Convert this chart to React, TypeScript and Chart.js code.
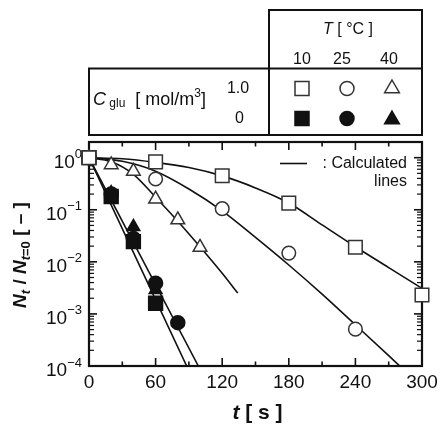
import React, { useEffect, useRef } from "react";
import { Chart, registerables } from "chart.js";

Chart.register(...registerables);

// ---------- data ----------
// Open symbols: C_glu = 1.0 mol/m3
const openSq10_t = [0, 60, 120, 180, 240, 300];
const openSq10_N = [1.0, 0.83, 0.45, 0.134, 0.019, 0.0023];
const openCi25_t = [0, 60, 120, 180, 240];
const openCi25_N = [1.0, 0.39, 0.105, 0.0147, 0.00051];
const openTr40_t = [0, 20, 40, 60, 80, 100];
const openTr40_N = [1.0, 0.73, 0.55, 0.16, 0.064, 0.019];
// Filled symbols: C_glu = 0
const fillSq10_t = [0, 20, 40, 60];
const fillSq10_N = [1.0, 0.18, 0.0245, 0.0016];
const fillCi25_t = [0, 20, 40, 60, 80];
const fillCi25_N = [1.0, 0.2, 0.028, 0.0039, 0.00068];
const fillTr40_t = [0, 20, 40, 60];
const fillTr40_N = [1.0, 0.21, 0.047, 0.0029];
// Calculated lines
const calcSq_t = [0, 30, 60, 90, 120, 150, 180, 210, 240, 270, 300];
const calcSq_N = [1.0, 0.955, 0.813, 0.646, 0.447, 0.263, 0.135, 0.0513, 0.0195, 0.00776, 0.00309];
const calcCi_t = [0, 30, 60, 90, 120, 150, 180, 210, 240, 270, 280];
const calcCi_N = [1.0, 0.851, 0.55, 0.251, 0.0955, 0.0295, 0.0087, 0.0024, 0.000617, 0.000158, 0.0001];
const calcTr_t = [0, 20, 40, 60, 80, 100, 120, 134];
const calcTr_N = [1.0, 0.832, 0.479, 0.174, 0.0603, 0.0195, 0.00603, 0.00251];
const calcFillA_t = [0, 88];
const calcFillA_N = [1.0, 0.0001];
const calcFillB_t = [0, 98.5];
const calcFillB_N = [1.0, 0.0001];

// ticks and labels
const xMajorTicks = [0, 60, 120, 180, 240, 300];
const xMinorTicks = [30, 90, 150, 210, 270];
const yDecadeExponents = [0, -1, -2, -3, -4];
const tempLabels = ["10", "25", "40"];
const concLabels = ["1.0", "0"];

const FONT = '"Liberation Sans", Arial, Helvetica, sans-serif';
const INK = "#111";

const pts = (t: number[], n: number[]) => t.map((x, i) => ({ x, y: n[i] }));

function markerSet(label: string, t: number[], n: number[], style: string, filled: boolean, r: number) {
  return {
    label,
    data: pts(t, n),
    showLine: false,
    pointStyle: style,
    pointRadius: r,
    pointHoverRadius: r,
    pointBackgroundColor: filled ? INK : "#fff",
    pointBorderColor: filled ? INK : "#333",
    pointBorderWidth: 1.5,
    clip: false,
    order: 1,
  };
}

function lineSet(label: string, t: number[], n: number[]) {
  return {
    label,
    data: pts(t, n),
    showLine: true,
    borderColor: INK,
    borderWidth: 1.6,
    pointRadius: 0,
    cubicInterpolationMode: "monotone",
    order: 10,
  };
}

function seg(ctx: CanvasRenderingContext2D, x1: number, y1: number, x2: number, y2: number) {
  ctx.beginPath();
  ctx.moveTo(x1, y1);
  ctx.lineTo(x2, y2);
  ctx.stroke();
}

type Piece = { t: string; f: string; dy?: number };
function drawPieces(ctx: CanvasRenderingContext2D, pieces: Piece[], x: number, y: number, align: "left" | "center") {
  let total = 0;
  for (const p of pieces) {
    ctx.font = p.f;
    total += ctx.measureText(p.t).width;
  }
  let cx = align === "center" ? x - total / 2 : x;
  ctx.textAlign = "left";
  for (const p of pieces) {
    ctx.font = p.f;
    ctx.fillText(p.t, cx, y + (p.dy || 0));
    cx += ctx.measureText(p.t).width;
  }
}

function drawMarker(ctx: CanvasRenderingContext2D, kind: string, filled: boolean, x: number, y: number) {
  ctx.beginPath();
  if (kind === "rect") {
    const s = 7;
    ctx.rect(x - s, y - s, 2 * s, 2 * s);
  } else if (kind === "circle") {
    ctx.arc(x, y, 7, 0, Math.PI * 2);
  } else {
    const r = 8.5;
    ctx.moveTo(x, y - r);
    ctx.lineTo(x + r * 0.866, y + r / 2);
    ctx.lineTo(x - r * 0.866, y + r / 2);
    ctx.closePath();
  }
  ctx.fillStyle = filled ? INK : "#fff";
  ctx.fill();
  ctx.lineWidth = 1.5;
  ctx.strokeStyle = filled ? INK : "#333";
  ctx.stroke();
}

const overlayPlugin = {
  id: "overlay",
  beforeDatasetsDraw(chart: any) {
    const { ctx, chartArea: a } = chart;
    const xs = chart.scales.x;
    const ys = chart.scales.y;
    ctx.save();
    ctx.strokeStyle = INK;
    ctx.fillStyle = INK;
    // frame
    ctx.lineWidth = 2.2;
    ctx.strokeRect(a.left, a.top, a.right - a.left, a.bottom - a.top);
    // x ticks
    ctx.lineWidth = 1.6;
    for (const v of xMajorTicks) {
      const px = xs.getPixelForValue(v);
      seg(ctx, px, a.bottom, px, a.bottom - 8);
      seg(ctx, px, a.top, px, a.top + 8);
    }
    for (const v of xMinorTicks) {
      const px = xs.getPixelForValue(v);
      seg(ctx, px, a.bottom, px, a.bottom - 4.5);
      seg(ctx, px, a.top, px, a.top + 4.5);
    }
    // y ticks
    for (const e of yDecadeExponents) {
      const py = ys.getPixelForValue(Math.pow(10, e));
      seg(ctx, a.left, py, a.left + 8, py);
      seg(ctx, a.right, py, a.right - 8, py);
    }
    ctx.lineWidth = 1.2;
    for (const e of yDecadeExponents) {
      for (let m = 2; m <= 9; m++) {
        const v = m * Math.pow(10, e);
        if (v >= ys.max || v <= ys.min) continue;
        const py = ys.getPixelForValue(v);
        seg(ctx, a.left, py, a.left + 5, py);
        seg(ctx, a.right, py, a.right - 5, py);
      }
    }
    // x tick labels
    ctx.font = `19px ${FONT}`;
    ctx.textAlign = "center";
    ctx.textBaseline = "middle";
    for (const v of xMajorTicks) {
      ctx.fillText(String(v), xs.getPixelForValue(v), a.bottom + 17);
    }
    // y tick labels 10^e
    for (const e of yDecadeExponents) {
      const py = ys.getPixelForValue(Math.pow(10, e));
      const expTxt = e === 0 ? "0" : "\u2212" + String(-e);
      ctx.font = `13px ${FONT}`;
      const ew = ctx.measureText(expTxt).width;
      const right = a.left - 7;
      ctx.textAlign = "left";
      ctx.fillText(expTxt, right - ew, py - 3);
      ctx.font = `19px ${FONT}`;
      ctx.textAlign = "right";
      ctx.fillText("10", right - ew, py + 5);
    }
    // x title
    ctx.textBaseline = "middle";
    drawPieces(
      ctx,
      [
        { t: "t", f: `italic bold 21px ${FONT}` },
        { t: " [ s ]", f: `bold 21px ${FONT}` },
      ],
      (a.left + a.right) / 2 + 2,
      413,
      "center"
    );
    // y title (rotated)
    ctx.save();
    ctx.translate(20, (a.top + a.bottom) / 2 + 1);
    ctx.rotate(-Math.PI / 2);
    ctx.textBaseline = "alphabetic";
    drawPieces(
      ctx,
      [
        { t: "N", f: `italic bold 19px ${FONT}` },
        { t: "t", f: `italic bold 13px ${FONT}`, dy: 4 },
        { t: " / ", f: `bold 19px ${FONT}` },
        { t: "N", f: `italic bold 19px ${FONT}` },
        { t: "t", f: `italic bold 13px ${FONT}`, dy: 4 },
        { t: "=0", f: `bold 13px ${FONT}`, dy: 4 },
        { t: " [ \u2013 ]", f: `bold 19px ${FONT}` },
      ],
      0,
      6,
      "center"
    );
    ctx.restore();
    ctx.restore();
  },
  afterDraw(chart: any) {
    const { ctx, chartArea: a } = chart;
    ctx.save();
    ctx.strokeStyle = INK;
    ctx.fillStyle = INK;
    // "Calculated lines" key inside plot
    ctx.lineWidth = 1.6;
    seg(ctx, 280, 163.5, 307, 163.5);
    ctx.font = `16px ${FONT}`;
    ctx.textAlign = "right";
    ctx.textBaseline = "middle";
    ctx.fillText(": Calculated", 407, 164);
    ctx.fillText("lines", 407, 182);

    // legend table
    const tblLeft = a.left;
    const tblRight = a.right;
    const divX = 269;
    const topY = 10;
    const midY = 68.5;
    const botY = 135;
    ctx.lineWidth = 2;
    ctx.beginPath();
    ctx.moveTo(divX, midY);
    ctx.lineTo(divX, topY);
    ctx.lineTo(tblRight, topY);
    ctx.lineTo(tblRight, botY);
    ctx.lineTo(tblLeft, botY);
    ctx.lineTo(tblLeft, midY);
    ctx.lineTo(tblRight, midY);
    ctx.moveTo(divX, midY);
    ctx.lineTo(divX, botY);
    ctx.stroke();

    ctx.textBaseline = "middle";
    drawPieces(
      ctx,
      [
        { t: "T", f: `italic 16px ${FONT}` },
        { t: " [ \u00B0C ]", f: `16px ${FONT}` },
      ],
      348,
      30,
      "center"
    );
    const colX = [302, 347, 392];
    ctx.font = `16px ${FONT}`;
    ctx.textAlign = "center";
    tempLabels.forEach((l, i) => ctx.fillText(l, colX[i] - (i === 1 ? 5 : i === 2 ? 3 : 0), 59.5));
    const rowY = [88.5, 118.5];
    ctx.fillText(concLabels[0], 238, rowY[0]);
    ctx.fillText(concLabels[1], 239.5, rowY[1]);
    drawPieces(
      ctx,
      [
        { t: "C", f: `italic 18px ${FONT}` },
        { t: " glu", f: `12px ${FONT}`, dy: 4 },
        { t: "  [ mol/m", f: `18px ${FONT}` },
        { t: "3", f: `12px ${FONT}`, dy: -6 },
        { t: "]", f: `18px ${FONT}` },
      ],
      93,
      100,
      "left"
    );
    const kinds = ["rect", "circle", "triangle"];
    kinds.forEach((k, i) => {
      drawMarker(ctx, k, false, colX[i], rowY[0]);
      drawMarker(ctx, k, true, colX[i], rowY[1] + (k === "triangle" ? 1 : 0));
    });
    ctx.restore();
  },
};

export default function App() {
  const ref = useRef<HTMLCanvasElement>(null);
  useEffect(() => {
    const datasets: any[] = [
      markerSet("10 °C, 1.0", openSq10_t, openSq10_N, "rect", false, 9.6),
      markerSet("25 °C, 1.0", openCi25_t, openCi25_N, "circle", false, 6.8),
      markerSet("40 °C, 1.0", openTr40_t, openTr40_N, "triangle", false, 7.9),
      markerSet("25 °C, 0", fillCi25_t, fillCi25_N, "circle", true, 7),
      markerSet("40 °C, 0", fillTr40_t, fillTr40_N, "triangle", true, 7.4),
      markerSet("10 °C, 0", fillSq10_t, fillSq10_N, "rect", true, 9.8),
      lineSet("calc 10", calcSq_t, calcSq_N),
      lineSet("calc 25", calcCi_t, calcCi_N),
      lineSet("calc 40", calcTr_t, calcTr_N),
      lineSet("calc 0 a", calcFillA_t, calcFillA_N),
      lineSet("calc 0 b", calcFillB_t, calcFillB_N),
    ];
    const chart = new Chart(ref.current as HTMLCanvasElement, {
      type: "scatter",
      data: { datasets },
      options: {
        responsive: false,
        animation: false,
        devicePixelRatio: 1,
        events: [],
        layout: { padding: { left: 89, top: 142, right: 19, bottom: 58 } },
        scales: {
          x: { type: "linear", min: 0, max: 300, display: false },
          y: { type: "logarithmic", min: 1e-4, max: 2, display: false },
        },
        plugins: { legend: { display: false }, tooltip: { enabled: false } },
      },
      plugins: [overlayPlugin],
    } as any);
    return () => chart.destroy();
  }, []);
  return (
    <div style={{ position: "absolute", left: 0, top: 0, width: 441, height: 424, background: "#fff" }}>
      <canvas ref={ref} width={441} height={424} style={{ display: "block" }} />
    </div>
  );
}
